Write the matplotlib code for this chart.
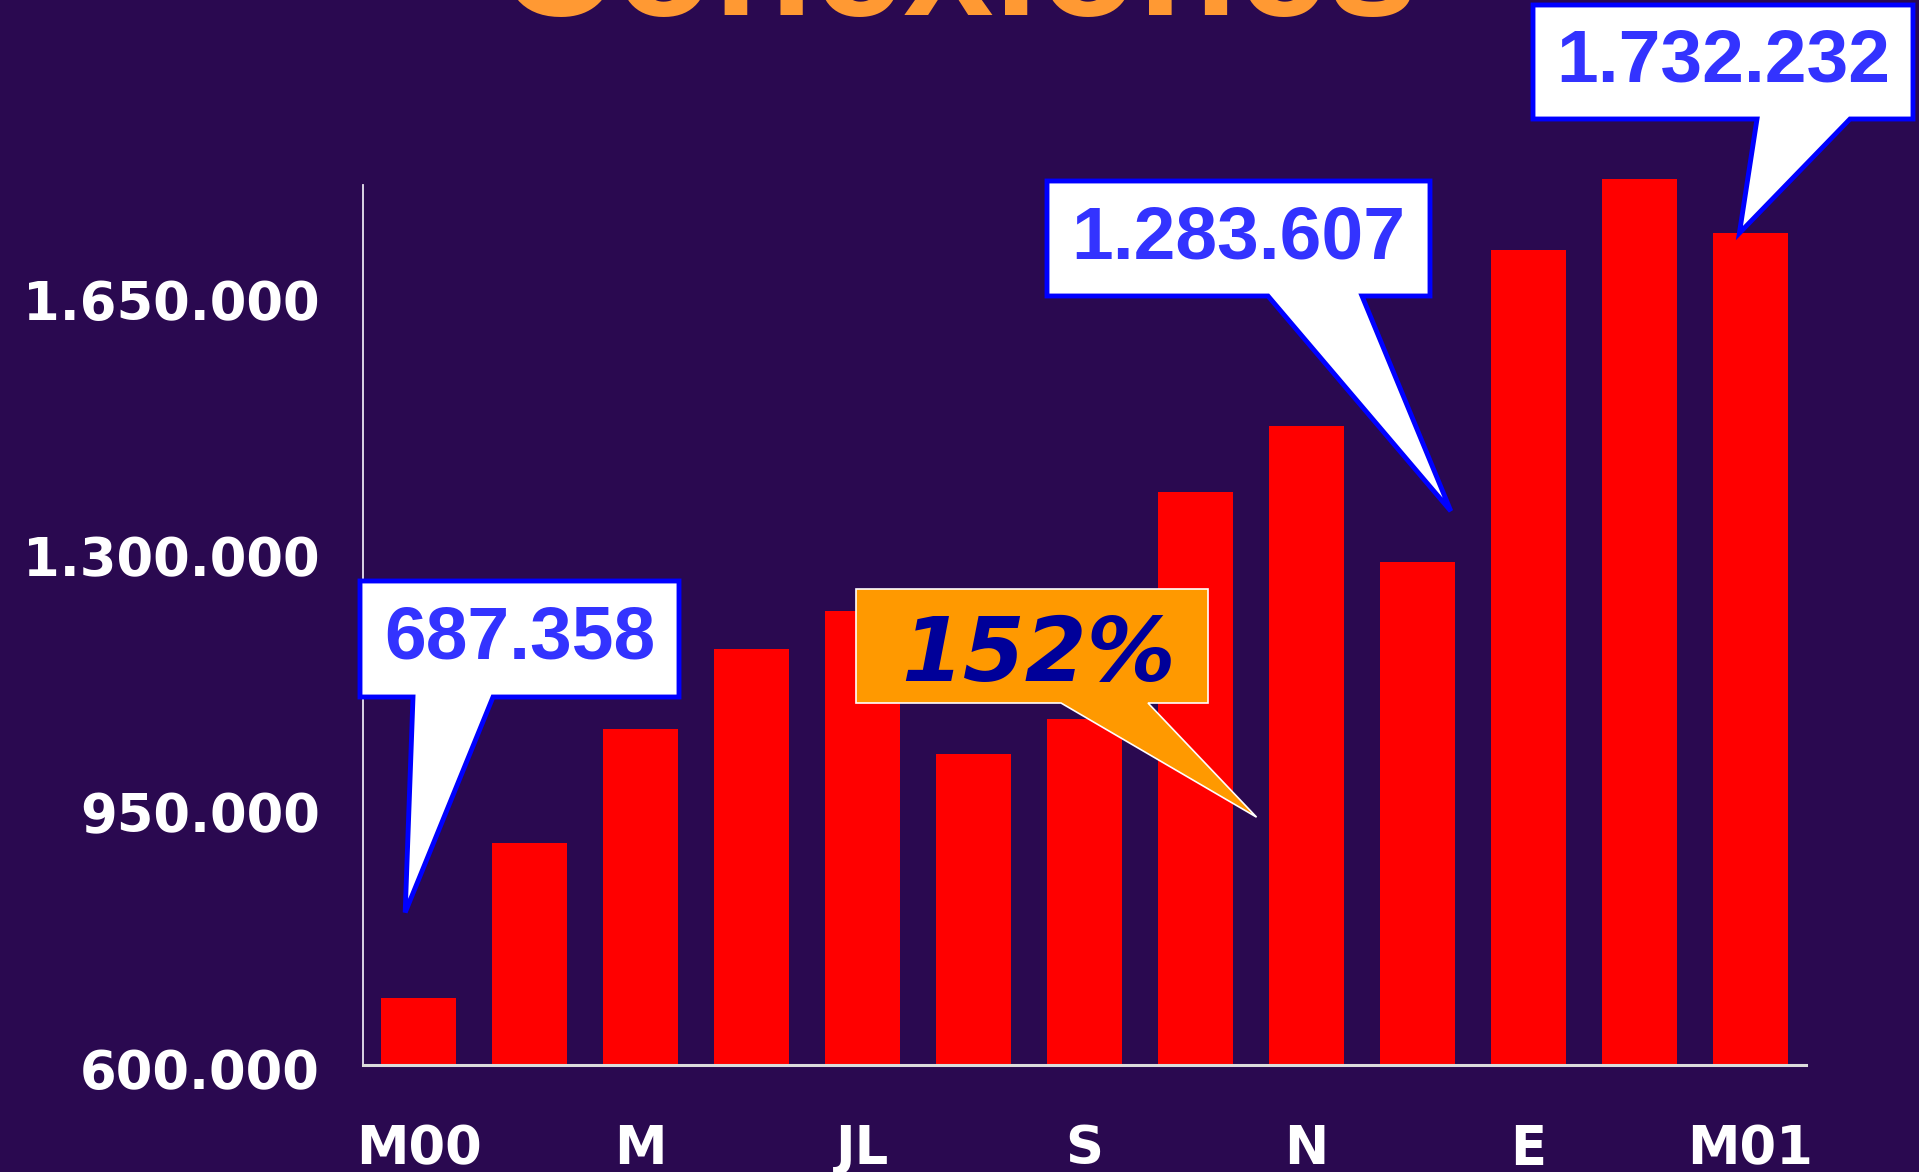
import matplotlib
matplotlib.use("Agg")
import matplotlib.pyplot as plt
from matplotlib.patches import Polygon
from matplotlib.transforms import ScaledTranslation

# datos: conexiones mensuales marzo 2000 - marzo 2001
meses = ["M00", "A", "M", "J", "JL", "AG", "S", "O", "N", "D", "E", "F", "M01"]
conexiones = [687358, 899000, 1054800, 1164000, 1216300, 1020800, 1069200,
              1378000, 1469000, 1283607, 1709400, 1805500, 1732232]
yticks = [600000, 950000, 1300000, 1650000]
ytick_labels = ["600.000", "950.000", "1.300.000", "1.650.000"]
crecimiento = "152%"

W, H = 1919, 1172
fondo = "#2a0950"

# escala: 1365.8 conexiones por pixel, eje x en y=1065
y_min, y_max, y_eje = 596000, 1810000, 1798000
alto_px = (y_max - y_min) / 1365.8

fig = plt.figure(figsize=(W / 100, H / 100), dpi=100, facecolor=fondo)
ax = fig.add_axes([363 / W, 1 - 1065 / H, 1443 / W, alto_px / H])
ax.set_facecolor(fondo)

x = list(range(len(meses)))
ax.bar(x, conexiones, width=0.675, color="#ff0000", zorder=2)
ax.set_xlim(-0.5, len(meses) - 0.5)
ax.set_ylim(y_min, y_max)

# ejes
for s in ["top", "right"]:
    ax.spines[s].set_visible(False)
ax.spines["left"].set_color("#e8e4f0")
ax.spines["left"].set_linewidth(1.3)
ax.spines["left"].set_bounds(y_min, y_eje)
ax.spines["bottom"].set_color("#dcdcdc")
ax.spines["bottom"].set_linewidth(2.2)
ax.spines["bottom"].set_zorder(3)

ax.set_yticks(yticks)
ax.set_yticklabels(ytick_labels, fontsize=38, fontweight="bold", color="white",
                   family="DejaVu Sans")
ax.set_xticks(x[::2])
ax.set_xticklabels(meses[::2], fontsize=38, fontweight="bold", color="white",
                   family="DejaVu Sans")
ax.tick_params(axis="y", length=0, pad=31)
ax.tick_params(axis="x", length=0, pad=42)
off = ScaledTranslation(0, -4.3 / 72, fig.dpi_scale_trans)
for lab in ax.get_yticklabels():
    lab.set_transform(lab.get_transform() + off)

# titulo (cortado arriba, como en la original)
fig.text(0.499, 1 - 15 / H, "Conexiones", ha="center", va="baseline",
         fontsize=117, fontweight="bold", color="#ff9933", family="Liberation Sans")


def px(xp, yp):
    return (xp / W, 1 - yp / H)


def callout(caja, base, punta, texto, cara, borde, lw, tcolor, fuente, tam,
            estilo="normal", tpos=None):
    x0, y0, x1, y1 = caja
    wa, wb = base
    tip = fig.transFigure.inverted().transform(ax.transData.transform(punta))
    pts = [px(x0, y0), px(x1, y0), px(x1, y1), px(wb, y1), tuple(tip),
           px(wa, y1), px(x0, y1)]
    poly = Polygon(pts, closed=True, facecolor=cara, edgecolor=borde, linewidth=lw,
                   joinstyle="miter", transform=fig.transFigure, zorder=5)
    fig.patches.append(poly)
    if tpos is None:
        tpos = ((x0 + x1) / 2, (y0 + y1) / 2)
    fig.text(*px(*tpos), texto, ha="center", va="center", fontsize=tam,
             fontweight="bold", style=estilo, color=tcolor, family=fuente, zorder=6)


azul = "#0000ff"
callout((360, 581, 679, 697), (413, 493), (-0.12, conexiones[0] + 117000),
        "687.358", "white", azul, 3.5, "#3333ff", "Liberation Sans", 54)
callout((1047, 181, 1430, 296), (1268, 1362), (9.3, conexiones[9] + 69000),
        "1.283.607", "white", azul, 3.5, "#3333ff", "Liberation Sans", 54)
callout((1533, 5, 1913, 119), (1757, 1850), (11.9, conexiones[12]),
        "1.732.232", "white", azul, 3.5, "#3333ff", "Liberation Sans", 54)
callout((856, 589, 1208, 703), (1061, 1148), (7.55, 934500),
        crecimiento, "#ff9900", "white", 1.2, "#000099", "DejaVu Sans", 64,
        estilo="italic", tpos=(1038, 656))

fig.savefig("out.png", dpi=100, facecolor=fondo)
